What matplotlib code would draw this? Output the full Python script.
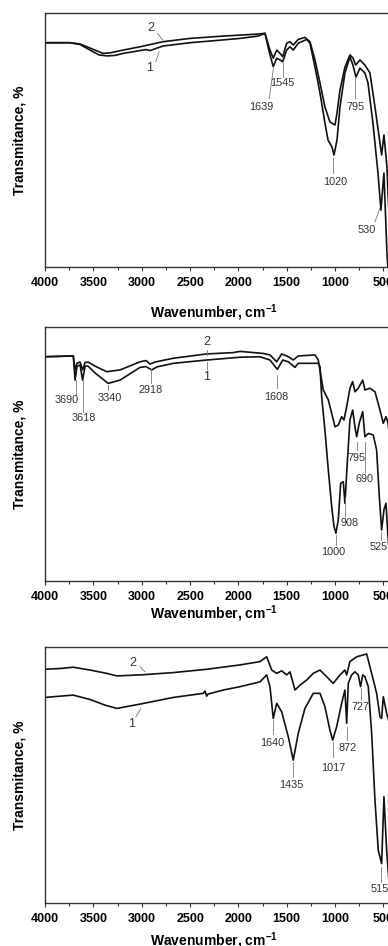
import matplotlib
matplotlib.use("Agg")
import matplotlib.pyplot as plt
from matplotlib.ticker import MultipleLocator

plt.rcParams['font.family'] = ['Liberation Sans', 'DejaVu Sans']
plt.rcParams['mathtext.fontset'] = 'custom'
plt.rcParams['mathtext.rm'] = 'Liberation Sans:bold'
plt.rcParams['mathtext.it'] = 'Liberation Sans:bold'
plt.rcParams['mathtext.bf'] = 'Liberation Sans:bold'

# ---------------- data (wavenumber, cm-1 ; transmittance, arbitrary %) ----------------
x_ticks = [4000, 3500, 3000, 2500, 2000, 1500, 1000, 500]
x_tick_labels = ["4000", "3500", "3000", "2500", "2000", "1500", "1000", "500"]

# Panel 1
p1_c2_wn = [4000, 3743, 3639, 3536, 3401, 3329, 3194, 3018, 2780, 2501, 2159, 1983, 1797, 1725,
            1673, 1639, 1603, 1569, 1541, 1500, 1466, 1432, 1380, 1311, 1259, 1207, 1155, 1104,
            1052, 1000, 979, 948, 897, 845, 814, 786, 741, 690, 638, 586, 534, 517, 493, 462, 431]
p1_c2_t = [88.3, 88.3, 87.8, 86.2, 84.1, 84.3, 85.4, 86.7, 88.7, 90.0, 90.9, 91.3, 91.7, 92.0,
           85.4, 82.2, 85.4, 84.1, 82.8, 88.1, 88.7, 87.4, 89.6, 90.4, 88.7, 81.5, 72.4, 63.0,
           57.1, 55.9, 60.6, 69.7, 78.7, 83.5, 82.3, 79.5, 81.5, 79.5, 76.4, 63.0, 48.8, 44.1, 52.0, 39.4, 10.6]
p1_c1_wn = [4000, 3743, 3639, 3536, 3443, 3360, 3277, 3194, 3018, 2956, 2915, 2780, 2501, 2159,
            1983, 1797, 1725, 1673, 1639, 1603, 1569, 1541, 1500, 1466, 1432, 1380, 1293, 1259,
            1207, 1155, 1104, 1072, 1031, 1010, 979, 948, 897, 845, 814, 783, 741, 690, 658, 607,
            555, 524, 493, 462, 431]
p1_c1_t = [88.3, 88.3, 87.6, 85.4, 83.5, 83.1, 83.3, 84.1, 85.2, 85.6, 85.2, 87.0, 88.3, 89.4,
           90.0, 90.9, 92.0, 83.5, 78.9, 82.2, 81.5, 80.8, 85.4, 86.7, 85.4, 88.1, 89.6, 88.1,
           78.7, 68.5, 56.7, 50.0, 47.2, 44.1, 50.0, 63.0, 76.4, 82.7, 79.5, 74.8, 78.3, 76.4, 72.4, 56.7,
           37.0, 22.4, 37.0, 5.5, -13.0]

# Panel 2
p2_c2_wn = [4000, 3709, 3691, 3670, 3639, 3613, 3587, 3556, 3484, 3363, 3225, 3018, 2956, 2915,
            2863, 2673, 2328, 2058, 1983, 1745, 1673, 1603, 1552, 1483, 1432, 1380, 1207, 1173,
            1121, 1069, 1034, 1000, 966, 931, 907, 879, 845, 817, 793, 759, 713, 690, 638, 586,
            534, 500, 472, 451, 431]
p2_c2_t = [88.3, 88.6, 83.1, 85.8, 86.2, 83.1, 86.0, 86.2, 84.6, 82.4, 83.1, 86.3, 86.8, 85.4,
           86.2, 87.7, 89.4, 89.9, 90.4, 89.6, 89.0, 86.3, 89.4, 88.3, 87.0, 88.6, 89.0, 87.0,
           75.2, 71.3, 66.0, 60.7, 61.4, 64.7, 63.4, 68.6, 75.9, 78.5, 74.5, 75.9, 79.1, 75.2, 75.9, 74.5,
           67.3, 62.1, 64.7, 62.2, 55.5]
p2_c1_wn = [4000, 3709, 3691, 3670, 3639, 3613, 3587, 3556, 3484, 3348, 3225, 3018, 2956, 2897,
            2842, 2673, 2328, 1983, 1776, 1673, 1597, 1541, 1483, 1414, 1380, 1173, 1155, 1138,
            1104, 1069, 1034, 1010, 990, 966, 941, 914, 897, 873, 845, 817, 793, 775, 749, 713,
            690, 655, 604, 569, 541, 517, 493, 472, 451, 431]
p2_c1_t = [88.3, 88.6, 79.1, 84.6, 85.0, 79.1, 84.6, 84.6, 81.9, 77.8, 79.1, 84.1, 84.4, 83.1,
           84.3, 85.7, 87.0, 88.1, 88.3, 87.0, 83.3, 87.0, 86.3, 84.1, 85.7, 85.7, 84.4, 72.6,
           59.4, 43.7, 29.3, 21.4, 18.8, 24.0, 38.5, 39.1, 30.6, 46.3, 63.4, 67.3, 60.7, 56.8, 62.1, 66.7,
           56.8, 58.1, 57.5, 51.6, 33.2, 20.1, 28.0, 30.6, 17.4, 8.3]

# Panel 3
p3_c2_wn = [4000, 3847, 3709, 3536, 3363, 3258, 3018, 2673, 2328, 1983, 1776, 1707, 1655, 1603,
            1552, 1500, 1466, 1414, 1362, 1293, 1225, 1155, 1086, 1018, 948, 897, 879, 845, 775,
            707, 672, 638, 603, 569, 534, 517, 500, 465, 445, 420]
p3_c2_t = [91.3, 91.6, 92.1, 91.0, 89.7, 88.7, 89.1, 90.0, 91.3, 93.0, 94.3, 96.2, 91.0, 89.7,
           90.7, 89.1, 90.3, 83.2, 85.1, 87.1, 89.7, 91.0, 88.4, 85.8, 89.1, 91.0, 89.1, 94.3, 96.2,
           96.9, 97.3, 92.3, 87.1, 81.9, 72.7, 72.1, 80.6, 74.1, 71.5, 65.6]
p3_c1_wn = [4000, 3847, 3709, 3536, 3381, 3258, 3018, 2673, 2363, 2346, 2328, 2315, 2156, 1983,
            1776, 1707, 1673, 1639, 1603, 1552, 1483, 1432, 1380, 1311, 1225, 1155, 1104, 1052,
            1024, 983, 931, 897, 879, 862, 828, 793, 759, 735, 713, 690, 655, 620, 586, 552, 517,
            493, 465, 445, 420]
p3_c1_t = [80.3, 80.8, 81.2, 79.5, 77.3, 76.0, 77.7, 80.3, 81.9, 82.8, 80.8, 81.6, 83.2, 84.5,
           86.4, 89.1, 84.5, 72.1, 78.0, 74.7, 64.9, 55.8, 66.3, 76.0, 81.9, 81.9, 76.7, 67.5,
           63.6, 68.8, 78.0, 83.2, 70.2, 85.8, 89.1, 90.3, 89.1, 84.5, 89.1, 88.4, 84.5, 66.2, 40.2, 20.6, 15.4,
           41.5, 20.6, 10.2, 5.0]

# annotations: label, text (wn, T), leader start (wn, T), leader end (wn, T)
p1_notes = [("2", 2906, 94.0, 2837, 92.0, 2785, 89.4),
            ("1", 2917, 78.2, 2855, 80.8, 2821, 84.8),
            ("1639", 1759, 63.1, 1680, 66.4, 1637, 78.3),
            ("1545", 1541, 72.3, 1541, 74.9, 1541, 80.2),
            ("795", 783, 63.1, 793, 66.4, 793, 74.9),
            ("1020", 1000, 33.6, 1018, 37.0, 1018, 42.9),
            ("530", 672, 14.6, 586, 17.8, 534, 23.1)]
p2_notes = [("2", 2328, 94.2, 2328, 90.9, 2328, 89.0),
            ("1", 2330, 80.4, 2328, 86.3, 2328, 83.5),
            ("3690", 3777, 71.3, 3680, 79.1, 3680, 73.2),
            ("3618", 3604, 64.1, 3610, 79.1, 3610, 66.5),
            ("3340", 3335, 71.9, 3346, 77.2, 3346, 75.2),
            ("2918", 2906, 75.2, 2906, 83.5, 2906, 78.0),
            ("1608", 1603, 72.6, 1600, 81.1, 1600, 76.0),
            ("795", 775, 48.3, 775, 54.8, 775, 51.6),
            ("690", 690, 40.2, 690, 54.8, 690, 43.0),
            ("908", 852, 23.0, 897, 33.2, 897, 25.3),
            ("1000", 1018, 11.5, 990, 18.1, 990, 14.2),
            ("525", 552, 13.5, 527, 19.4, 527, 16.1)]
p3_notes = [("2", 3096, 93.9, 3018, 92.3, 2966, 90.3),
            ("1", 3103, 69.9, 3061, 72.7, 3009, 76.0),
            ("1640", 1645, 62.6, 1639, 71.5, 1639, 66.2),
            ("1435", 1448, 46.0, 1431, 55.1, 1431, 49.3),
            ("1017", 1018, 52.8, 1024, 63.0, 1024, 57.1),
            ("872", 873, 60.6, 879, 68.8, 879, 63.6),
            ("727", 734, 76.7, 734, 83.8, 734, 79.3),
            ("515", 534, 5.6, 524, 14.1, 524, 8.2)]

x_label = r"Wavenumber, cm$^{-1}$"
y_label = "Transmitance, %"

# ---------------- layout ----------------
W, H = 388, 946
fig = plt.figure(figsize=(W / 100, H / 100), dpi=100)

LEFT_PX, RIGHT_PX = 45.2, 391.0
panels = [
    (13, 267, p1_c1_wn, p1_c1_t, p1_c2_wn, p1_c2_t, p1_notes, 313),
    (327, 581, p2_c1_wn, p2_c1_t, p2_c2_wn, p2_c2_t, p2_notes, 614),
    (647, 903, p3_c1_wn, p3_c1_t, p3_c2_wn, p3_c2_t, p3_notes, 941),
]

for top, bot, c1w, c1t, c2w, c2t, notes, xl_y in panels:
    ax = fig.add_axes([LEFT_PX / W, 1 - bot / H, (RIGHT_PX - LEFT_PX) / W, (bot - top) / H])
    ax.plot(c1w, c1t, color="#111111", lw=1.2, solid_joinstyle="round")
    ax.plot(c2w, c2t, color="#111111", lw=1.2, solid_joinstyle="round")
    ax.set_xlim(4000, 420)
    ax.set_ylim(0, 100)
    ax.set_yticks([])
    ax.set_xticks(x_ticks)
    ax.set_xticklabels(x_tick_labels, fontsize=9, fontweight="bold")
    ax.xaxis.set_minor_locator(MultipleLocator(250))
    ax.tick_params(axis="x", which="major", direction="out", length=3.2, width=0.8, pad=4.0,
                   color="#333333")
    ax.tick_params(axis="x", which="minor", direction="out", length=2.2, width=0.8, color="#333333")
    for s in ax.spines.values():
        s.set_linewidth(1.0)
        s.set_color("#333333")
    for lab, tx, ty, lx0, ly0, lx1, ly1 in notes:
        big = lab in ("1", "2")
        ax.plot([lx0, lx1], [ly0, ly1], color="#777777", lw=0.6)
        ax.text(tx, ty, lab, ha="center", va="center", fontsize=9 if big else 7.8,
                color="#333333")
    fig.text(214 / W, 1 - xl_y / H, x_label, ha="center", va="center", fontsize=10,
             fontweight="bold")
    fig.text(20 / W, 1 - (top + bot) / 2 / H, y_label, ha="center", va="center",
             rotation=90, fontsize=10, fontweight="bold")

fig.savefig("out.png", dpi=100)
